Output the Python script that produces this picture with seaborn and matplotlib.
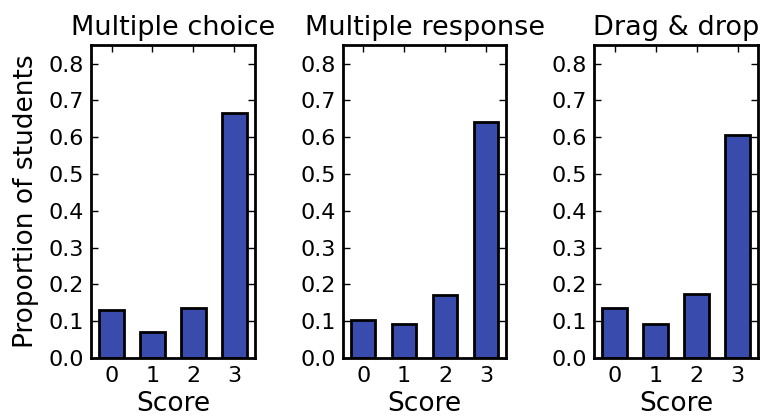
import matplotlib
matplotlib.use("Agg")
import matplotlib.pyplot as plt
import seaborn as sns
import pandas as pd

scores = ["0", "1", "2", "3"]
titles = ["Multiple choice", "Multiple response", "Drag & drop"]
multiple_choice = [0.131, 0.070, 0.137, 0.667]
multiple_response = [0.103, 0.092, 0.171, 0.640]
drag_drop = [0.135, 0.092, 0.174, 0.605]
series = [multiple_choice, multiple_response, drag_drop]
yticks = [0.0, 0.1, 0.2, 0.3, 0.4, 0.5, 0.6, 0.7, 0.8]

sns.set_theme(style="ticks")
plt.rcParams["font.family"] = ["DejaVu Sans"]
plt.rcParams.update({
    "xtick.direction": "in", "ytick.direction": "in",
    "xtick.top": True, "ytick.right": True,
    "xtick.major.size": 5, "ytick.major.size": 5,
    "xtick.major.width": 1, "ytick.major.width": 1,
    "axes.linewidth": 2, "axes.edgecolor": "black",
    "xtick.color": "black", "ytick.color": "black",
    "text.color": "black", "axes.labelcolor": "black",
})

fig, axes = plt.subplots(1, 3, figsize=(7.65, 4.18), dpi=100)
fig.subplots_adjust(left=0.119, right=0.991, bottom=0.1435, top=0.892, wspace=0.536)

color = "#3A4BAE"
for ax, vals, title in zip(axes, series, titles):
    df = pd.DataFrame({"Score": scores, "Proportion": vals})
    sns.barplot(data=df, x="Score", y="Proportion", color=color, saturation=1,
                edgecolor="black", linewidth=2, width=0.6, ax=ax)
    ax.set_ylim(0, 0.85)
    ax.set_xlim(-0.5, 3.5)
    ax.set_yticks(yticks)
    ax.set_yticklabels([f"{t:.1f}" for t in yticks])
    ax.tick_params(labelsize=16, top=True, right=True, direction="in")
    ax.tick_params(axis="x", pad=5.5)
    ax.tick_params(axis="y", pad=5)
    ax.set_xlabel("Score", fontsize=19, labelpad=4)
    ax.set_ylabel("")
    ax.set_title(title, fontsize=19.5, pad=7.6)
    for s in ax.spines.values():
        s.set_visible(True)
        s.set_linewidth(2)

axes[0].set_ylabel("Proportion of students", fontsize=19, labelpad=7)

fig.savefig("out.png", dpi=100)
